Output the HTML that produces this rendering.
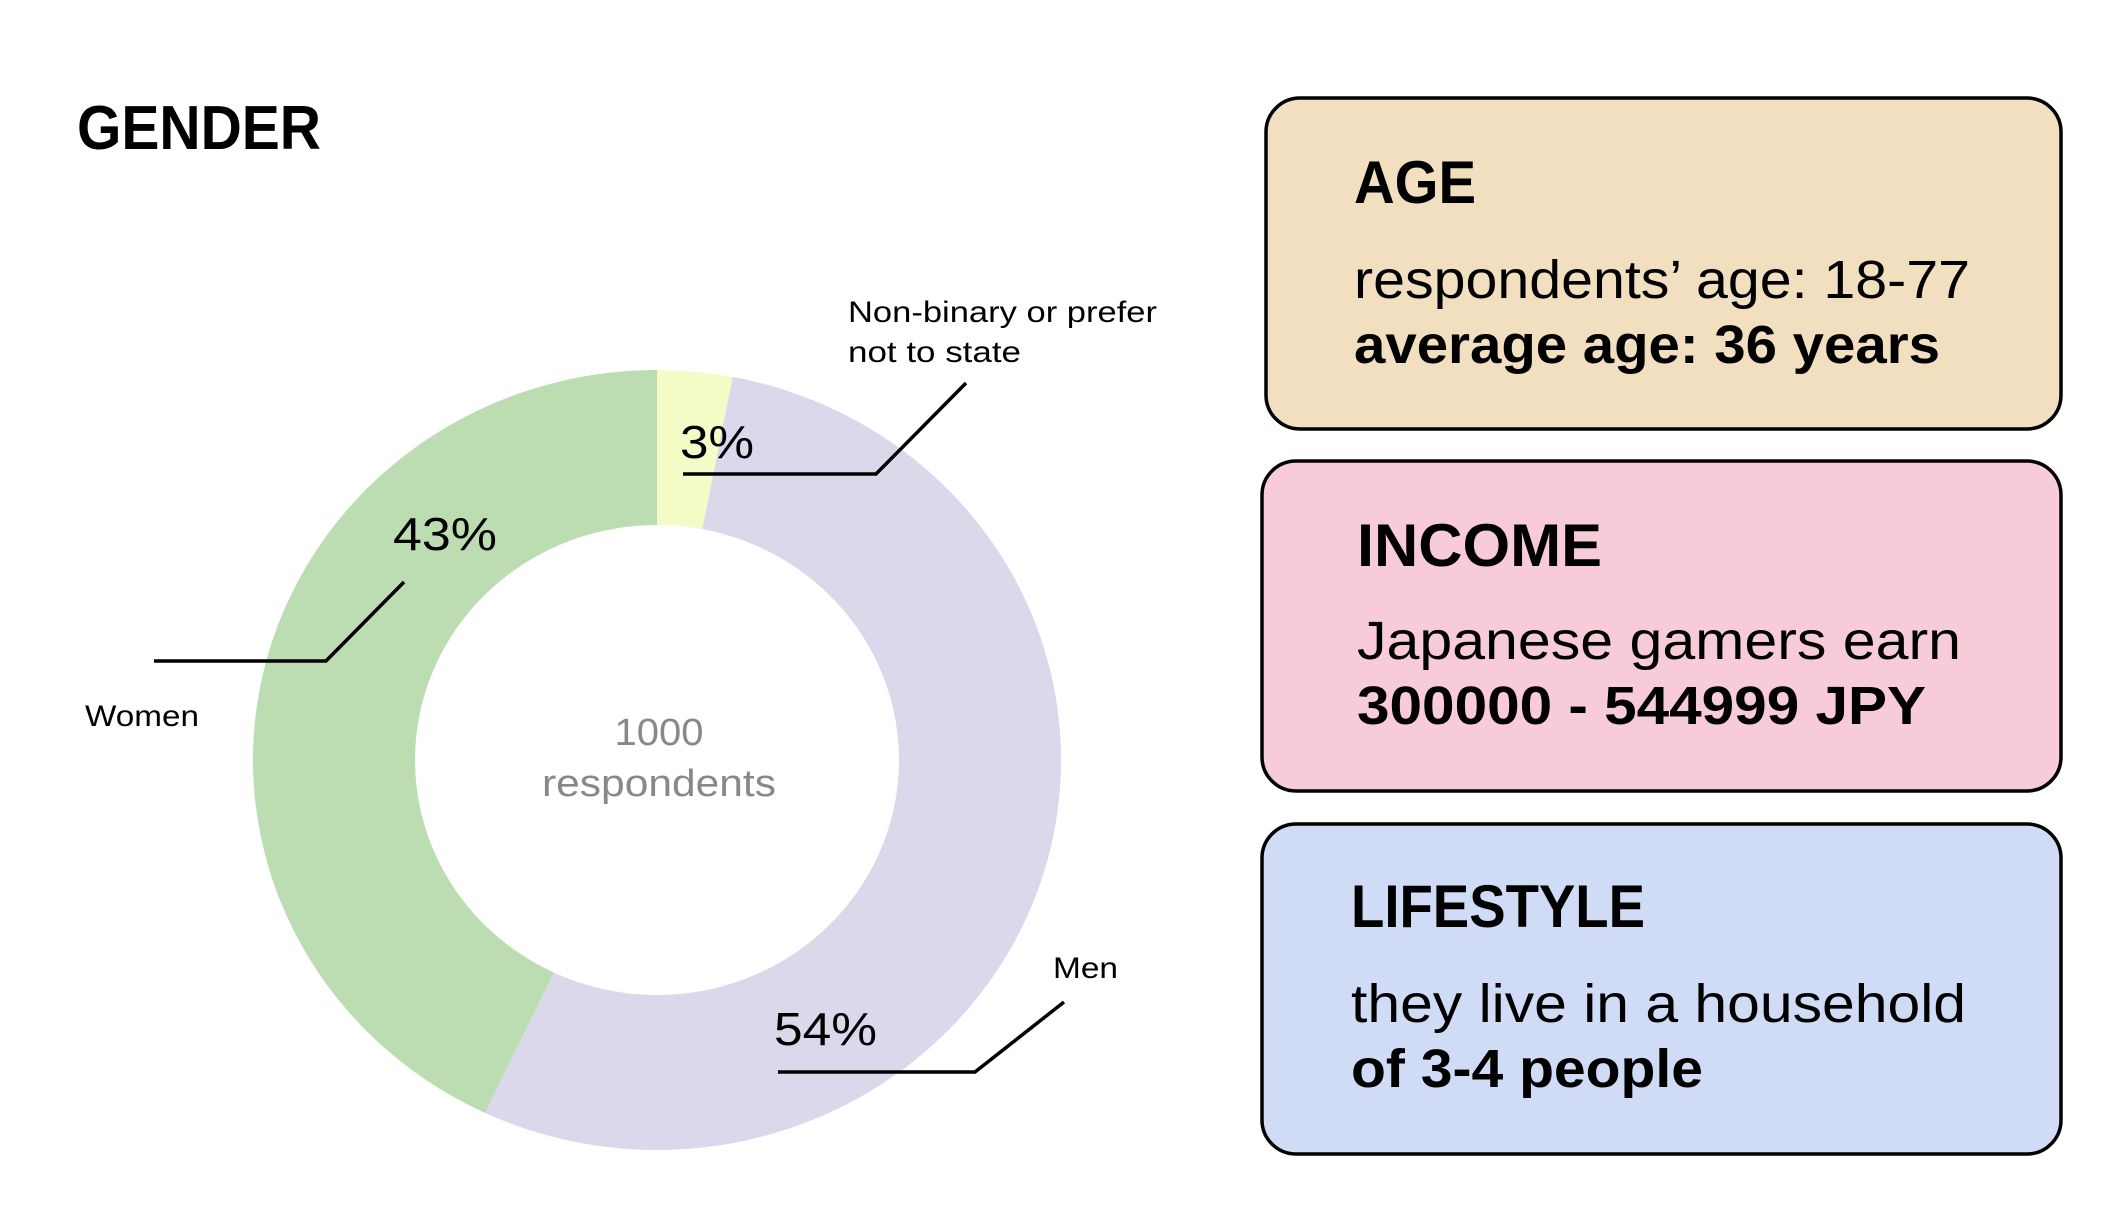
<!DOCTYPE html>
<html><head><meta charset="utf-8"><style>
html,body{margin:0;padding:0;background:#fff;}
svg{display:block;font-family:"Liberation Sans",sans-serif;}
</style></head><body>
<svg id="chart" width="2112" height="1212" viewBox="0 0 2112 1212">
<text x="77" y="149" font-size="62" font-weight="bold" textLength="244" lengthAdjust="spacingAndGlyphs">GENDER</text>
<g id="donut"></g>
<text x="659" y="745" font-size="38" fill="#888" text-anchor="middle" textLength="89" lengthAdjust="spacingAndGlyphs">1000</text>
<text x="659" y="796" font-size="38" fill="#888" text-anchor="middle" textLength="234" lengthAdjust="spacingAndGlyphs">respondents</text>
<g fill="none" stroke="#000" stroke-width="3.5">
<polyline points="683,474 876,474 966,383"/>
<polyline points="154,661 326,661 404,582"/>
<polyline points="778,1072 975,1072 1064,1002"/>
</g>
<text x="848" y="322" font-size="30" textLength="309" lengthAdjust="spacingAndGlyphs">Non-binary or prefer</text>
<text x="848" y="362" font-size="30" textLength="173" lengthAdjust="spacingAndGlyphs">not to state</text>
<text x="85" y="726" font-size="30" textLength="114" lengthAdjust="spacingAndGlyphs">Women</text>
<text x="1053" y="978" font-size="30" textLength="65" lengthAdjust="spacingAndGlyphs">Men</text>
<g id="pcts"></g>

<rect x="1266" y="98" width="795" height="331" rx="34" fill="#f1dfc0" stroke="#000" stroke-width="3.5"/>
<text x="1354" y="203" font-size="60" font-weight="bold" textLength="122" lengthAdjust="spacingAndGlyphs">AGE</text>
<text x="1354" y="298" font-size="54" textLength="616" lengthAdjust="spacingAndGlyphs">respondents’ age: 18-77</text>
<text x="1354" y="363" font-size="54" font-weight="bold" textLength="586" lengthAdjust="spacingAndGlyphs">average age: 36 years</text>

<rect x="1262" y="461" width="799" height="330" rx="34" fill="#f8cbd9" stroke="#000" stroke-width="3.5"/>
<text x="1357" y="566" font-size="60" font-weight="bold" textLength="245" lengthAdjust="spacingAndGlyphs">INCOME</text>
<text x="1357" y="659" font-size="54" textLength="604" lengthAdjust="spacingAndGlyphs">Japanese gamers earn</text>
<text x="1357" y="724" font-size="54" font-weight="bold" textLength="569" lengthAdjust="spacingAndGlyphs">300000 - 544999 JPY</text>

<rect x="1262" y="824" width="799" height="330" rx="34" fill="#d0dbf6" stroke="#000" stroke-width="3.5"/>
<text x="1351" y="927" font-size="60" font-weight="bold" textLength="294" lengthAdjust="spacingAndGlyphs">LIFESTYLE</text>
<text x="1351" y="1022" font-size="54" textLength="615" lengthAdjust="spacingAndGlyphs">they live in a household</text>
<text x="1351" y="1087" font-size="54" font-weight="bold" textLength="352" lengthAdjust="spacingAndGlyphs">of 3-4 people</text>
</svg>
<script>
const categories = ["Non-binary or prefer not to state", "Men", "Women"];
const values = [3, 54, 43];
const pctLabels = ["3%", "54%", "43%"];
const colors = ["#f5fbc6", "#dcd8ec", "#bcdcb2"];

const NS = "http://www.w3.org/2000/svg";
const cx = 657, cy = 760, rxO = 404, ryO = 390, rxI = 242, ryI = 235;
const total = values.reduce((a, b) => a + b, 0);
function pt(frac, rx, ry) {
  const a = frac * 2 * Math.PI;
  return [cx + rx * Math.sin(a), cy - ry * Math.cos(a)];
}
const donut = document.getElementById("donut");
let cum = 0;
values.forEach((v, i) => {
  const f0 = cum / total, f1 = (cum + v) / total;
  cum += v;
  const large = (f1 - f0) > 0.5 ? 1 : 0;
  const o0 = pt(f0, rxO, ryO), o1 = pt(f1, rxO, ryO), i1 = pt(f1, rxI, ryI), i0 = pt(f0, rxI, ryI);
  const d = `M${o0[0]},${o0[1]} A${rxO},${ryO} 0 ${large} 1 ${o1[0]},${o1[1]} L${i1[0]},${i1[1]} A${rxI},${ryI} 0 ${large} 0 ${i0[0]},${i0[1]} Z`;
  const p = document.createElementNS(NS, "path");
  p.setAttribute("d", d);
  p.setAttribute("fill", colors[i]);
  
  
  donut.appendChild(p);
});
// percentage labels
const pctPos = [[680, 458, 74], [774, 1045, 103], [393, 550, 104]];
const pg = document.getElementById("pcts");
pctLabels.forEach((t, i) => {
  const el = document.createElementNS(NS, "text");
  el.setAttribute("x", pctPos[i][0]);
  el.setAttribute("y", pctPos[i][1]);
  el.setAttribute("font-size", "46");
  el.setAttribute("textLength", pctPos[i][2]);
  el.setAttribute("lengthAdjust", "spacingAndGlyphs");
  el.textContent = t;
  
  
  pg.appendChild(el);
});
</script>
</body></html>
